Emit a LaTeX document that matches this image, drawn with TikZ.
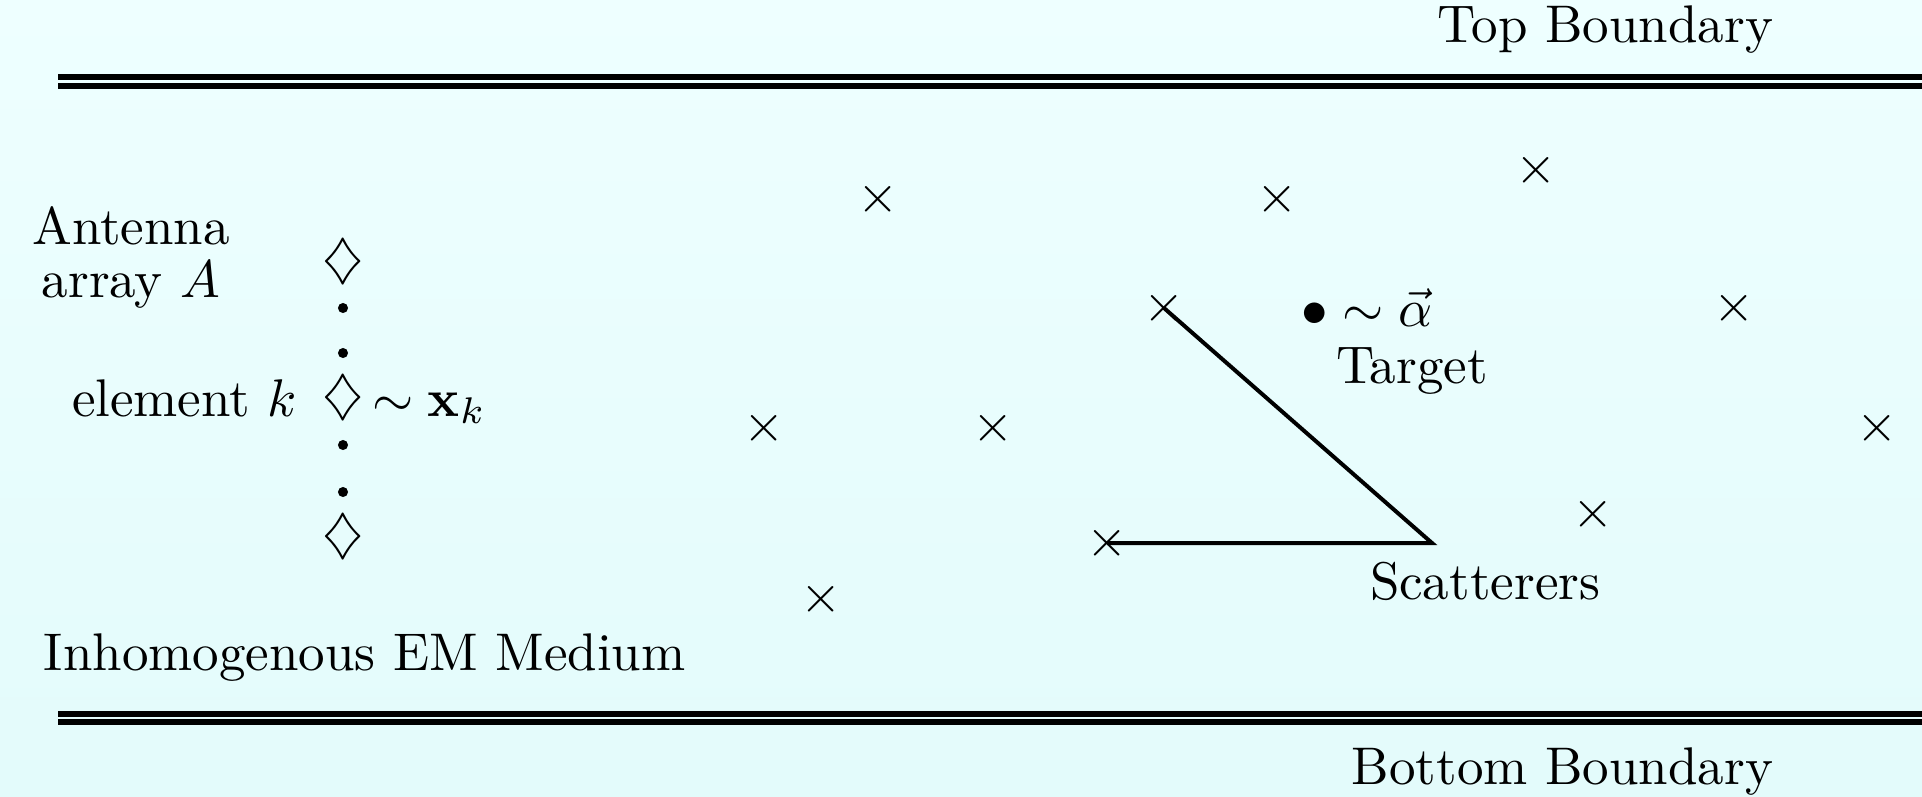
\documentclass[tikz,border=0pt]{standalone}
\definecolor{bgtop}{RGB}{238,255,255}
\definecolor{bgbot}{RGB}{227,251,251}
\begin{document}
\begin{tikzpicture}[x=0.1887pt,y=-0.1887pt,
  txt/.style={inner sep=0pt, outer sep=0pt},
  scat/.style={inner sep=0pt, outer sep=0pt},
  elem/.style={inner sep=0pt, outer sep=0pt},
  arrdot/.style={circle, fill=black, inner sep=0pt, minimum size=1.9pt},
  bound/.style={line width=1.13pt},
  ray/.style={line width=0.75pt, line join=miter}]
\shade[top color=bgtop, bottom color=bgbot] (0,0) rectangle (1922,796);
\useasboundingbox (0,0) rectangle (1922,796);
% boundaries
\draw[bound] (58,77) -- (1922,77);
\draw[bound] (58,85.5) -- (1922,85.5);
\draw[bound] (58,714) -- (1922,714);
\draw[bound] (58,722) -- (1922,722);
\node[txt, anchor=base east] (topb) at (1773,42) {Top Boundary};
\node[txt, anchor=base east] (botb) at (1773,784) {Bottom Boundary};
\node[txt, anchor=base west] (medium) at (44,670) {Inhomogenous EM Medium};
% antenna array
\node[txt, align=center, anchor=center] (antlbl) at (131,257) {Antenna\\[-2pt]array $A$};
\node[elem] (e1) at (343,262) {$\diamondsuit$};
\node[arrdot] (d1) at (343,308) {};
\node[arrdot] (d2) at (343,353) {};
\node[elem] (ek) at (343,398) {$\diamondsuit$};
\node[arrdot] (d3) at (343,445) {};
\node[arrdot] (d4) at (343,492) {};
\node[elem] (eN) at (343,537) {$\diamondsuit$};
\node[txt, anchor=base east] (elbl) at (297,416) {element $k$};
\node[txt, anchor=base west] (xk) at (372,416) {$\sim\mathbf{x}_k$};
% target
\node[txt, anchor=base west] (tgt) at (1301,326) {$\bullet\sim\vec{\alpha}$};
\node[txt, anchor=base west] (tgtlbl) at (1336,383) {Target};
% scatterers
\node[scat] (s1) at (878,199) {$\times$};
\node[scat] (s2) at (1277,199) {$\times$};
\node[scat] (s3) at (1536,170) {$\times$};
\node[scat] (s4) at (1164,308) {$\times$};
\node[scat] (s5) at (1734,308) {$\times$};
\node[scat] (s6) at (764,428) {$\times$};
\node[scat] (s7) at (993,428) {$\times$};
\node[scat] (s8) at (1877,428) {$\times$};
\node[scat] (s9) at (1593,514) {$\times$};
\node[scat] (s10) at (1107,543) {$\times$};
\node[scat] (s11) at (821,599) {$\times$};
\node[txt, anchor=base west] (scatlbl) at (1370,599) {Scatterers};
% ray path
\coordinate (v) at (1432,543);
\draw[ray] (s4.center) -- (v) -- (s10.center);
\end{tikzpicture}
\end{document}
